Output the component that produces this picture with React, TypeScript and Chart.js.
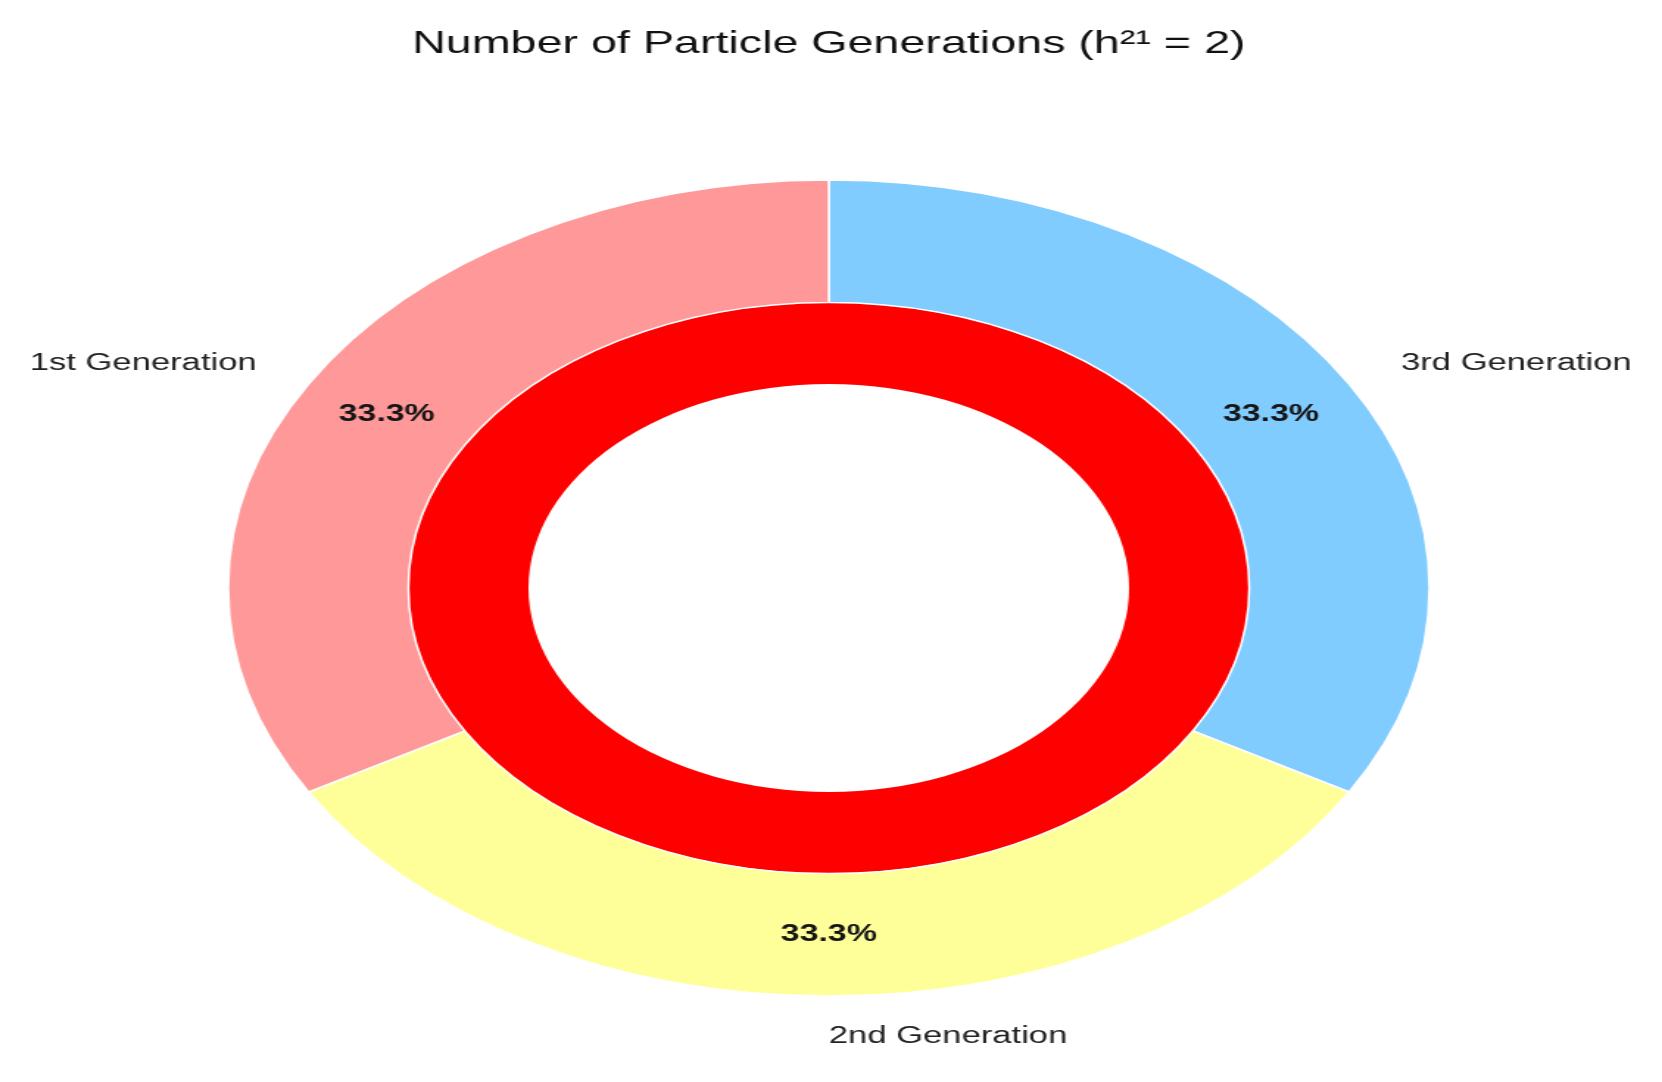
import React, { useEffect, useRef } from 'react';
import { Chart, registerables } from 'chart.js';

Chart.register(...registerables);

// ---- data ----
const titleText = 'Number of Particle Generations (h²¹ = 2)';
const categories = ['1st Generation', '2nd Generation', '3rd Generation'];
const generationCounts = [1, 1, 1];
const generationColors = ['#ff9999', '#ffff99', '#80ccff'];
const innerLabels = ['All Generations'];
const innerValues = [3];
const innerColors = ['#ff0000'];

// ---- layout ----
const FULL_W = 1662;
const FULL_H = 1082;
const CANVAS_W = 1129;
const STRETCH = FULL_W / CANVAS_W;
const FONT = '"Liberation Sans", Arial, Helvetica, sans-serif';

const textPlugin = {
  id: 'pieText',
  afterDraw(chart: any) {
    const ctx = chart.ctx as CanvasRenderingContext2D;
    const meta = chart.getDatasetMeta(0);
    const ds = chart.data.datasets[0];
    const total = (ds.data as number[]).reduce((a, b) => a + b, 0);
    const first = meta.data[0];
    if (!first) return;
    ctx.save();
    ctx.textBaseline = 'middle';

    // title
    ctx.fillStyle = '#111111';
    ctx.textAlign = 'center';
    ctx.font = `31.7px ${FONT}`;
    ctx.fillText(titleText, first.x, 44);

    meta.data.forEach((arc: any, i: number) => {
      const p = arc.getProps(['x', 'y', 'startAngle', 'endAngle', 'outerRadius'], true);
      const mid = (p.startAngle + p.endAngle) / 2;
      const c = Math.cos(mid);
      const s = Math.sin(mid);
      // outer label
      const lx = p.x + c * p.outerRadius * 1.1;
      const ly = p.y + s * p.outerRadius * 1.1;
      ctx.font = `23.5px ${FONT}`;
      ctx.fillStyle = '#222222';
      ctx.textAlign = c >= -1e-9 ? 'left' : 'right';
      ctx.fillText(String(chart.data.labels[i]), lx, ly);
      // percentage
      const v = (ds.data as number[])[i];
      const pct = ((v / total) * 100).toFixed(1) + '%';
      const px = p.x + c * p.outerRadius * 0.85;
      const py = p.y + s * p.outerRadius * 0.85;
      ctx.save();
      ctx.translate(px, py);
      ctx.scale(0.96, 1);
      ctx.font = `bold 24px ${FONT}`;
      ctx.fillStyle = '#151515';
      ctx.textAlign = 'center';
      ctx.fillText(pct, 0, 0);
      ctx.restore();
    });
    ctx.restore();
  },
};

export default function App() {
  const ref = useRef<HTMLCanvasElement | null>(null);

  useEffect(() => {
    if (!ref.current) return;
    // Chart.js draws clockwise from the top; the reference runs counter-clockwise,
    // so the outer ring is fed in reverse order.
    const labels = [...categories].reverse();
    const data = [...generationCounts].reverse();
    const colors = [...generationColors].reverse();
    const chart = new Chart(ref.current, {
      type: 'doughnut',
      data: {
        labels,
        datasets: [
          {
            label: 'Generations',
            data,
            backgroundColor: colors,
            borderColor: '#ffffff',
            borderWidth: 1.5,
            weight: 3,
          } as any,
          {
            label: innerLabels[0],
            data: innerValues,
            backgroundColor: innerColors,
            borderWidth: 0,
            weight: 2,
          } as any,
        ],
      },
      options: {
        responsive: false,
        animation: false,
        devicePixelRatio: 1,
        events: [],
        cutout: '50%',
        radius: 408,
        rotation: 0,
        layout: { padding: { top: 94, bottom: 0, left: 0, right: 3 } },
        plugins: {
          legend: { display: false },
          title: { display: false },
          tooltip: { enabled: false },
        },
      } as any,
      plugins: [textPlugin],
    });
    return () => chart.destroy();
  }, []);

  return (
    <div
      style={{
        position: 'fixed',
        left: 0,
        top: 0,
        width: FULL_W,
        height: FULL_H,
        overflow: 'hidden',
        background: '#ffffff',
      }}
    >
      <div
        style={{
          width: CANVAS_W,
          height: FULL_H,
          transform: `scaleX(${STRETCH})`,
          transformOrigin: '0 0',
        }}
      >
        <canvas
          ref={ref}
          width={CANVAS_W}
          height={FULL_H}
          style={{ width: CANVAS_W, height: FULL_H, display: 'block' }}
        />
      </div>
    </div>
  );
}
